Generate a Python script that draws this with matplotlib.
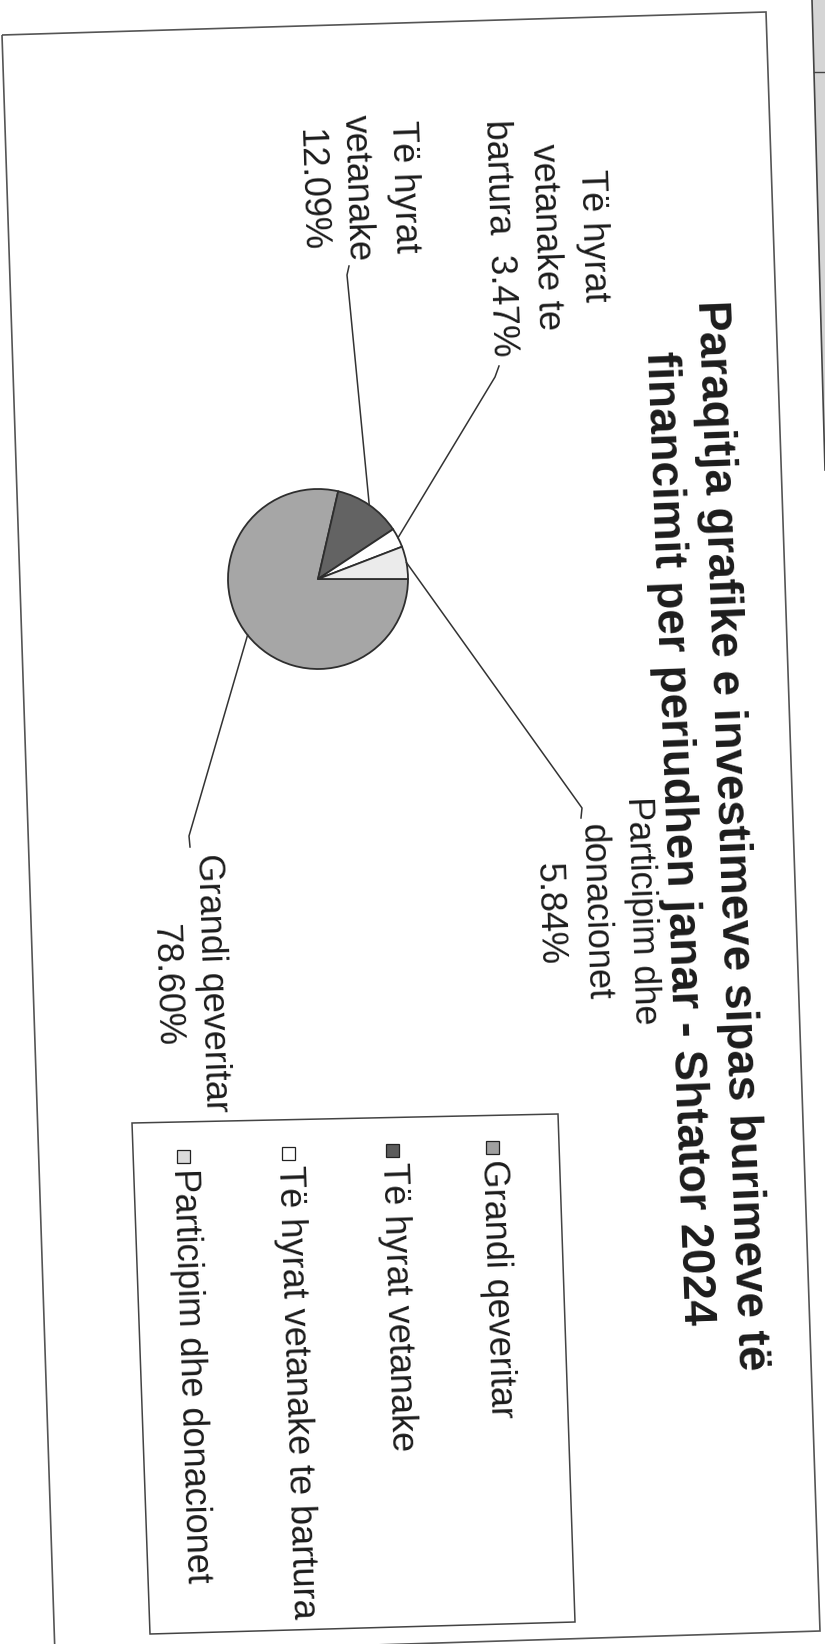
import matplotlib
matplotlib.use("Agg")
import matplotlib.pyplot as plt
import numpy as np
from matplotlib.patches import Polygon, Rectangle

# ---------------- data ----------------
categories = ["Grandi qeveritar", "Të hyrat vetanake",
              "Të hyrat vetanake te bartura", "Participim dhe donacionet"]
shares = [78.60, 12.09, 3.47, 5.84]
slice_colors = ["#a6a6a6", "#636363", "#ffffff", "#ebebeb"]
legend_colors = ["#a0a0a0", "#5c5c5c", "#ffffff", "#dcdcdc"]
title_lines = ["Paraqitja grafike e investimeve sipas burimeve të",
               "financimit per periudhen janar - Shtator 2024"]
# label text as it is broken into lines in the picture ({p} = percentage)
label_lines = [["Grandi qeveritar", "{p}"],
               ["Të hyrat", "vetanake", "{p}"],
               ["Të hyrat", "vetanake te", "bartura  {p}"],
               ["Participim dhe", "donacionet", "{p}"]]

# ---------------- layout (pixel coordinates of the scanned page) ----------------
W, H = 825, 1644
ROT = -88.1                     # text turned by 90 deg plus the scan skew
ROT_TITLE = -87.8
FONT = "Liberation Sans"
TXT = "#1c1c1c"
pie_center = (318, 579)
pie_radius = 90
label_centers = [(189, 984), (357, 188), (546, 237), (595, 912)]
line_pitch = 46.5
leader_ends = [[(189, 836), (190, 847)],
               [(347, 275), (349, 266)],
               [(495, 377), (499, 366)],
               [(582, 808), (581, 818)]]

fig = plt.figure(figsize=(W / 100, H / 100), dpi=100)
fig.patch.set_facecolor("white")
ax = fig.add_axes([0, 0, 1, 1])

wedges, _ = ax.pie(shares, colors=slice_colors, startangle=0, counterclock=True,
                   center=pie_center, radius=pie_radius,
                   wedgeprops=dict(edgecolor="#2e2e2e", linewidth=1.3))
ax.set_xlim(0, W)
ax.set_ylim(H, 0)
ax.set_aspect("equal")
ax.axis("off")

# outer frame of the chart (slightly skewed scan)
ax.add_patch(Polygon([(2, 35), (766, 12), (820, 1631), (55, 1655)], closed=True,
                     fill=False, edgecolor="#555555", linewidth=1.2))
# edge of the neighbouring page
ax.add_patch(Polygon([(812, 0), (825, 0), (825, 470)], closed=True,
                     facecolor="#d5d5d5", edgecolor="none"))
ax.plot([812, 825], [0, 470], color="#444444", lw=1.2)
ax.plot([814, 825], [72, 72], color="#444444", lw=1.0)

# title
ax.text(731, 835, title_lines[0], rotation=ROT_TITLE, rotation_mode="anchor",
        ha="center", va="center", fontsize=33, fontweight="bold",
        family=FONT, color=TXT)
ax.text(678, 838, title_lines[1], rotation=ROT_TITLE, rotation_mode="anchor",
        ha="center", va="center", fontsize=33, fontweight="bold",
        family=FONT, color=TXT)

# data labels and leader lines
for i, w in enumerate(wedges):
    mid = np.deg2rad((w.theta1 + w.theta2) / 2)
    sx = pie_center[0] + pie_radius * np.cos(mid)
    sy = pie_center[1] + pie_radius * np.sin(mid)
    pts = [(sx, sy)] + leader_ends[i]
    ax.plot([p[0] for p in pts], [p[1] for p in pts], color="#333333", lw=1.1)

    lines = [s.format(p=f"{shares[i]:.2f}%") for s in label_lines[i]]
    n = len(lines)
    cx, cy = label_centers[i]
    for k, s in enumerate(lines):
        off = ((n - 1) / 2 - k) * line_pitch
        ax.text(cx + off, cy - 0.033 * off, s, rotation=ROT,
                rotation_mode="anchor", ha="center", va="center",
                fontsize=26, family=FONT, color=TXT)

# legend box
ax.add_patch(Polygon([(132, 1123), (558, 1114), (575, 1622), (150, 1634)],
                     closed=True, fill=False, edgecolor="#444444", linewidth=1.1))
leg_x = [492, 392, 288, 183]
for i, cat in enumerate(categories):
    mx = leg_x[i]
    my = 1147 + 0.03 * (492 - mx)
    ax.add_patch(Rectangle((mx - 6.5, my - 6.5), 13, 13,
                           facecolor=legend_colors[i], edgecolor="#222222", lw=0.9))
    ax.text(mx, my + 12, cat, rotation=ROT, rotation_mode="anchor",
            ha="left", va="center", fontsize=26, family=FONT, color=TXT)

fig.savefig("out.png", dpi=100, facecolor="white")
